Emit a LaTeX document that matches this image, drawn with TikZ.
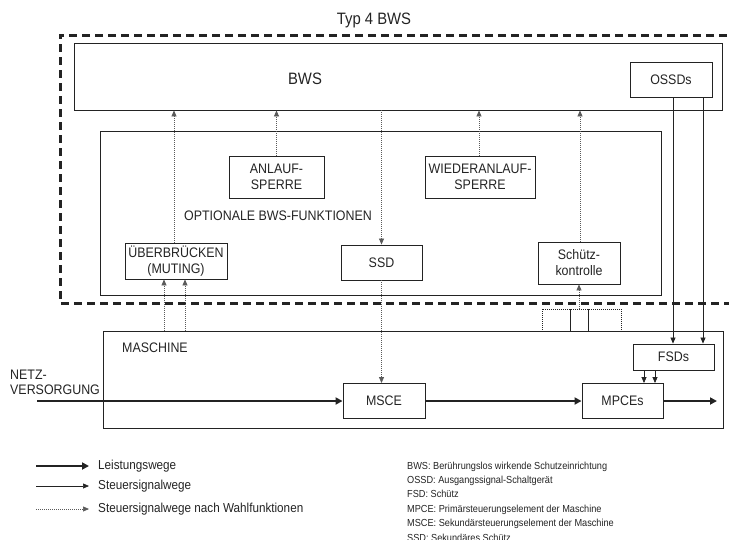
\documentclass[tikz,border=0pt]{standalone}
\usepackage{fontspec}
\setmainfont{Liberation Sans}[FakeStretch=0.9]
\usetikzlibrary{arrows.meta,calc}
\definecolor{ink}{RGB}{35,35,35}
\begin{document}
\begin{tikzpicture}[x=1pt,y=-1pt,
  box/.style={draw=ink, line width=0.9pt, inner sep=0pt, align=center, text=ink, font=\fontsize{13.8}{16}\selectfont},
  lbl/.style={text=ink, inner sep=0pt, font=\fontsize{13.8}{16}\selectfont},
  biglbl/.style={text=ink, inner sep=0pt, font=\fontsize{16.5}{18}\selectfont},
  leglbl/.style={text=ink, inner sep=0pt, anchor=west, font=\fontsize{13}{15}\selectfont},
  dotbox/.style={draw=ink, line width=0.8pt, dash pattern=on 1pt off 1pt, inner sep=0pt},
  frame/.style={draw=ink, line width=3pt, dash pattern=on 8pt off 5pt},
  ctl/.style={draw=ink, line width=0.7pt, -{Triangle[length=6pt,width=5pt]}},
  opt/.style={draw=ink!75, line width=0.7pt, dash pattern=on 1pt off 1pt, -{Triangle[length=6pt,width=5pt]}},
  pwr/.style={draw=ink, line width=2.8pt, -{Triangle[length=7pt,width=7pt]}},
  ]
\useasboundingbox (0,0) rectangle (729,539);

% outer dashed frame
\node[biglbl] (typ) at (374,20) {Typ 4 BWS};
\draw[frame] (740,35) -- (60,35) -- (60,303) -- (740,303);

% BWS
\node[box, minimum width=648, minimum height=67] (bws) at (398,76.5) {};
\node[biglbl] (bwst) at (305,79) {BWS};
\node[box, minimum width=82, minimum height=35] (ossd) at (671,79.5) {OSSDs};

% optional functions
\node[box, minimum width=561, minimum height=164] (opt) at (380.5,213) {};
\node[lbl] (optt) at (278,216) {OPTIONALE BWS-FUNKTIONEN};
\node[box, minimum width=95, minimum height=42] (anl) at (276.5,177) {ANLAUF-\\SPERRE};
\node[box, minimum width=110, minimum height=42] (wie) at (480,177) {WIEDERANLAUF-\\SPERRE};
\node[box, minimum width=102, minimum height=36] (ueb) at (176,261) {ÜBERBRÜCKEN\\(MUTING)};
\node[box, minimum width=81, minimum height=35] (ssd) at (381.5,262.5) {SSD};
\node[box, minimum width=82, minimum height=42] (sk) at (579,263) {Schütz-\\kontrolle};

% dotted boxes
\node[dotbox, minimum width=28, minimum height=22] (d1) at (556,320) {};
\node[dotbox, minimum width=18, minimum height=22] (d2) at (579,320) {};
\node[dotbox, minimum width=33, minimum height=22] (d3) at (604.5,320) {};

% machine
\node[box, minimum width=620, minimum height=97] (mas) at (413,379.5) {};
\node[lbl, anchor=west] (mast) at (122,348) {MASCHINE};
\node[box, minimum width=81, minimum height=26] (fsd) at (673.5,357) {FSDs};
\node[box, minimum width=82, minimum height=35] (msce) at (384,401) {MSCE};
\node[box, minimum width=81, minimum height=35] (mpce) at (622.5,401) {MPCEs};
\node[lbl, anchor=west, align=left, font=\fontsize{13.8}{15}\selectfont] (netz) at (10,382.5) {NETZ-\\VERSORGUNG};

% power path
\coordinate (pin) at (37,401);
\coordinate (pout) at (717,401);
\draw[pwr] (pin) -- (msce.west);
\draw[pwr] (msce.east) -- (mpce.west);
\draw[pwr] (mpce.east) -- (pout);

% optional control paths
\draw[opt] ([xshift=-2pt]ueb.north) -- ([xshift=-2pt]ueb.north |- bws.south);
\draw[opt] (anl.north) -- (anl.north |- bws.south);
\draw[opt] (ssd.north |- bws.south) -- (ssd.north);
\draw[opt] ([xshift=-1pt]wie.north) -- ([xshift=-1pt]wie.north |- bws.south);
\draw[opt] ([xshift=1pt]sk.north) -- ([xshift=1pt]sk.north |- bws.south);
\draw[opt] ([xshift=-12pt]ueb.south |- mas.north) -- ([xshift=-12pt]ueb.south);
\draw[opt] ([xshift=9pt]ueb.south |- mas.north) -- ([xshift=9pt]ueb.south);
\draw[opt] (ssd.south) -- (ssd.south |- msce.north);
\draw[opt] (d2.north) -- (sk.south);

% control paths
\draw[ctl] ([xshift=2pt]ossd.south) -- ([xshift=2pt]ossd.south |- fsd.north);
\draw[ctl] ([xshift=32pt]ossd.south) -- ([xshift=32pt]ossd.south |- fsd.north);
\draw[ctl] ([xshift=-29.5pt]fsd.south) -- ([xshift=-29.5pt]fsd.south |- mpce.north);
\draw[ctl] ([xshift=-18.5pt]fsd.south) -- ([xshift=-18.5pt]fsd.south |- mpce.north);

% legend
\coordinate (l1a) at (36,466); \coordinate (l1b) at (89,466);
\coordinate (l2a) at (36,486); \coordinate (l2b) at (89,486);
\coordinate (l3a) at (36,509); \coordinate (l3b) at (89,509);
\draw[pwr] (l1a) -- (l1b);
\draw[ctl] (l2a) -- (l2b);
\draw[opt] (l3a) -- (l3b);
\node[leglbl] (lg1) at (98,466) {Leistungswege};
\node[leglbl] (lg2) at (98,486) {Steuersignalwege};
\node[leglbl] (lg3) at (98,509) {Steuersignalwege nach Wahlfunktionen};

\node[anchor=north west, align=left, inner sep=0pt, text=ink, font=\fontsize{10.2}{14.4}\selectfont] (abk) at (407,461.5) {BWS: Berührungslos wirkende Schutzeinrichtung\\
OSSD: Ausgangssignal-Schaltgerät\\
FSD: Schütz\\
MPCE: Primärsteuerungselement der Maschine\\
MSCE: Sekundärsteuerungselement der Maschine\\
SSD: Sekundäres Schütz};
\end{tikzpicture}
\end{document}
